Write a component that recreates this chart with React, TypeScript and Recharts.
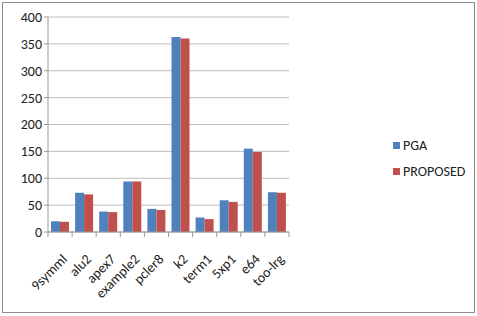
import { Bar, BarChart, CartesianGrid, Legend, XAxis, YAxis } from "recharts"

const circuits = ["9symml", "alu2", "apex7", "example2", "pcler8", "k2", "term1", "5xp1", "e64", "too-lrg"]
const pga = [20, 73, 38, 94, 43, 363, 27, 59, 155, 74]
const proposed = [19, 70, 37, 94, 41, 360, 24, 56, 149, 73]
const yTicks = [0, 50, 100, 150, 200, 250, 300, 350, 400]

const data = circuits.map((name, i) => ({ name, PGA: pga[i], PROPOSED: proposed[i] }))

const font = "Carlito, 'Liberation Sans', Arial, sans-serif"

// Excel style: tick marks sit between categories, labels rotated 45deg
function RotatedTick({ x, y, payload, index, visibleTicksCount }: any) {
  const half = payload.offset || 16.25
  const ax = x + 8
  const ay = y + 21
  const axisY = y - 7
  const last = index === visibleTicksCount - 1
  return (
    <g>
      <line x1={x - half} x2={x - half} y1={axisY} y2={axisY + 5} stroke="#9a9a9a" />
      {last && <line x1={x + half} x2={x + half} y1={axisY} y2={axisY + 5} stroke="#9a9a9a" />}
      <text
        x={ax}
        y={ay}
        textAnchor="end"
        transform={`rotate(-45, ${ax}, ${ay})`}
        fontSize={14}
        fontFamily={font}
        fill="#222"
      >
        {payload.value}
      </text>
    </g>
  )
}

function LegendBox() {
  const items = [
    { label: "PGA", color: "#4F81BD" },
    { label: "PROPOSED", color: "#C0504D" },
  ]
  return (
    <div style={{ fontFamily: font, fontSize: 14, color: "#222" }}>
      {items.map((it) => (
        <div key={it.label} style={{ display: "flex", alignItems: "center", height: 26 }}>
          <span style={{ width: 7, height: 7, background: it.color, marginRight: 3 }} />
          {it.label}
        </div>
      ))}
    </div>
  )
}

export default function App() {
  return (
    <div
      style={{
        position: "absolute",
        left: 0,
        top: 0,
        width: 477,
        height: 316,
        background: "#fff",
      }}
    >
      <div
        style={{
          position: "absolute",
          left: 2,
          top: 2,
          width: 471,
          height: 309,
          border: "1px solid #8c8c8c",
        }}
      />
      <BarChart
        width={477}
        height={316}
        data={data}
        margin={{ top: 17, right: 104, left: 0, bottom: 0 }}
        barGap={0}
        barSize={9}
      >
        <CartesianGrid vertical={false} stroke="#bcbcbc" />
        <XAxis
          dataKey="name"
          height={84}
          interval={0}
          tick={<RotatedTick />}
          tickLine={false}
          stroke="#9a9a9a"
          tickSize={5}
        />
        <YAxis
          width={48}
          domain={[0, 400]}
          ticks={yTicks}
          stroke="#9a9a9a"
          tickSize={4}
          tick={{ fontSize: 14, fontFamily: font, fill: "#222" }}
          tickMargin={2}
        />
        <Legend
          layout="vertical"
          align="right"
          verticalAlign="top"
          wrapperStyle={{ top: 132, left: 393, width: 84 }}
          content={<LegendBox />}
        />
        <Bar dataKey="PGA" fill="#4F81BD" isAnimationActive={false} />
        <Bar dataKey="PROPOSED" fill="#C0504D" isAnimationActive={false} />
      </BarChart>
    </div>
  )
}
